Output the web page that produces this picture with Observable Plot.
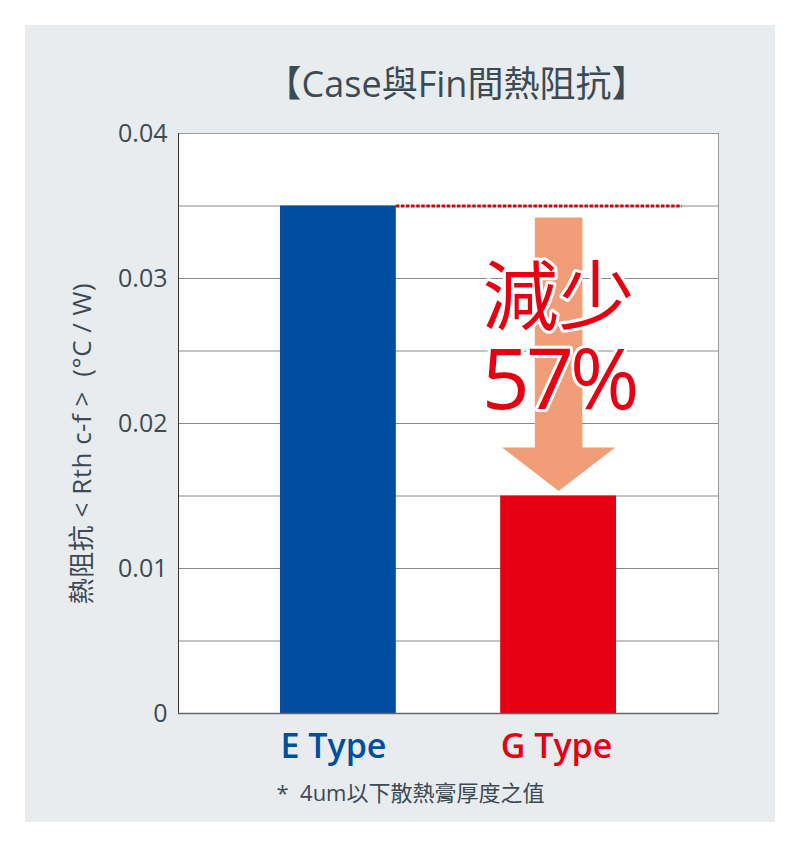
<!DOCTYPE html>
<html>
<head>
<meta charset="utf-8">
<script src="https://cdn.jsdelivr.net/npm/d3@7"></script>
<script src="https://cdn.jsdelivr.net/npm/@observablehq/plot@0.6"></script>
<style>
  html, body { margin: 0; padding: 0; background: #ffffff; width: 800px; height: 847px; overflow: hidden; }
  #panel { position: absolute; left: 25px; top: 25px; width: 750px; height: 797px; background: #e9ecef; }
  #chart { position: absolute; left: 0; top: 0; }
</style>
</head>
<body>
<div id="panel"></div>
<div id="chart"></div>
<script>
// ---- data ----
const categories = ["E Type", "G Type"];
const values = [0.035, 0.015];
const barColors = ["#004ea2", "#e60012"];
const yTickValues = [0, 0.01, 0.02, 0.03, 0.04];
const gridValues = [0.005, 0.01, 0.015, 0.02, 0.025, 0.03, 0.035];
const reductionLines = ["減少", "57%"];
const reductionBaseline = 0.0210;
const arrowY = [0.0342, 0.01835, 0.01535]; // shaft top, head base, tip
const titleText = "【Case與Fin間熱阻抗】";
const yLabelText = "熱阻抗 < Rth c-f >  (°C / W)";
const footnoteText = "*  4um以下散熱膏厚度之值";

// ---- derived tables ----
const bars = categories.map((c, i) => ({category: c, index: i, value: values[i], color: barColors[i]}));
const xDomain = [-0.726, 1.726];
const barHalf = 0.263, shaftHalf = 0.108, headHalf = 0.257;
const gx = categories.indexOf("G Type");
const arrow = [
  [gx - shaftHalf, arrowY[0]], [gx + shaftHalf, arrowY[0]], [gx + shaftHalf, arrowY[1]],
  [gx + headHalf, arrowY[1]], [gx, arrowY[2]], [gx - headHalf, arrowY[1]], [gx - shaftHalf, arrowY[1]]
];
const font = "'Open Sans', 'Noto Sans CJK TC', sans-serif";
const textColor = "#3c4a54";
const red = "#e60012";
const lineGap = 85; // px between the two lines of the reduction label

const chart = Plot.plot({
  width: 800, height: 847,
  marginLeft: 178, marginRight: 82, marginTop: 133, marginBottom: 134,
  x: {domain: xDomain, axis: null},
  y: {domain: [0, 0.04], axis: null},
  color: {type: "identity"},
  style: {background: "transparent", color: textColor, fontFamily: font},
  marks: [
    Plot.frame({fill: "white", stroke: "#999999"}),
    Plot.gridY(gridValues, {stroke: "#8a8a8a", strokeOpacity: 1}),
    Plot.rectY(bars, {x1: d => d.index - barHalf, x2: d => d.index + barHalf, y1: 0, y2: "value", fill: "color"}),
    Plot.ruleX([xDomain[0]], {stroke: "#333333"}),
    Plot.ruleY([0], {stroke: "#666666", strokeWidth: 1.5}),
    Plot.ruleY([values[0]], {x1: barHalf, x2: 1.562, stroke: "#d7000f", strokeWidth: 3, strokeDasharray: "3.4,1.7"}),
    Plot.line(arrow, {x: d => d[0], y: d => d[1], fill: "#f19e78", stroke: "none"}),
    Plot.text([reductionLines.join("\n")], {x: gx, y: reductionBaseline, text: d => d, fill: red, stroke: "white", strokeWidth: 6, fontSize: 76, lineHeight: lineGap / 76, lineAnchor: "bottom"}),
    Plot.axisY({ticks: yTickValues, tickFormat: d => d === 0 ? "0" : d.toFixed(2), tickSize: 0, tickPadding: 11, fontSize: 25, label: null}),
    Plot.text(bars, {x: d => d.index - barHalf, y: 0, text: "category", fill: "color", fontSize: 34, fontWeight: 600, textAnchor: "start", lineAnchor: "bottom", dy: 44}),
    Plot.text([titleText], {frameAnchor: "top", dy: -37, dx: 8, lineAnchor: "bottom", fontSize: 36}),
    Plot.text([yLabelText], {frameAnchor: "left", rotate: -90, textAnchor: "middle", dx: -96, dy: 20, fontSize: 26}),
    Plot.text([footnoteText], {frameAnchor: "bottom-left", dx: 98, dy: 87, textAnchor: "start", lineAnchor: "bottom", fontSize: 22})
  ]
});
d3.select(chart).selectAll("text").each(function() {
  if (this.textContent === yLabelText) this.style.letterSpacing = "0.5px";
});
d3.select(chart).selectAll("tspan").each(function() {
  if (this.textContent === reductionLines[1]) {
    this.setAttribute("dy", lineGap + "px");
    this.style.fontSize = "84px";
    this.style.letterSpacing = "-4px";
  }
});
document.getElementById("chart").appendChild(chart);
</script>
</body>
</html>
